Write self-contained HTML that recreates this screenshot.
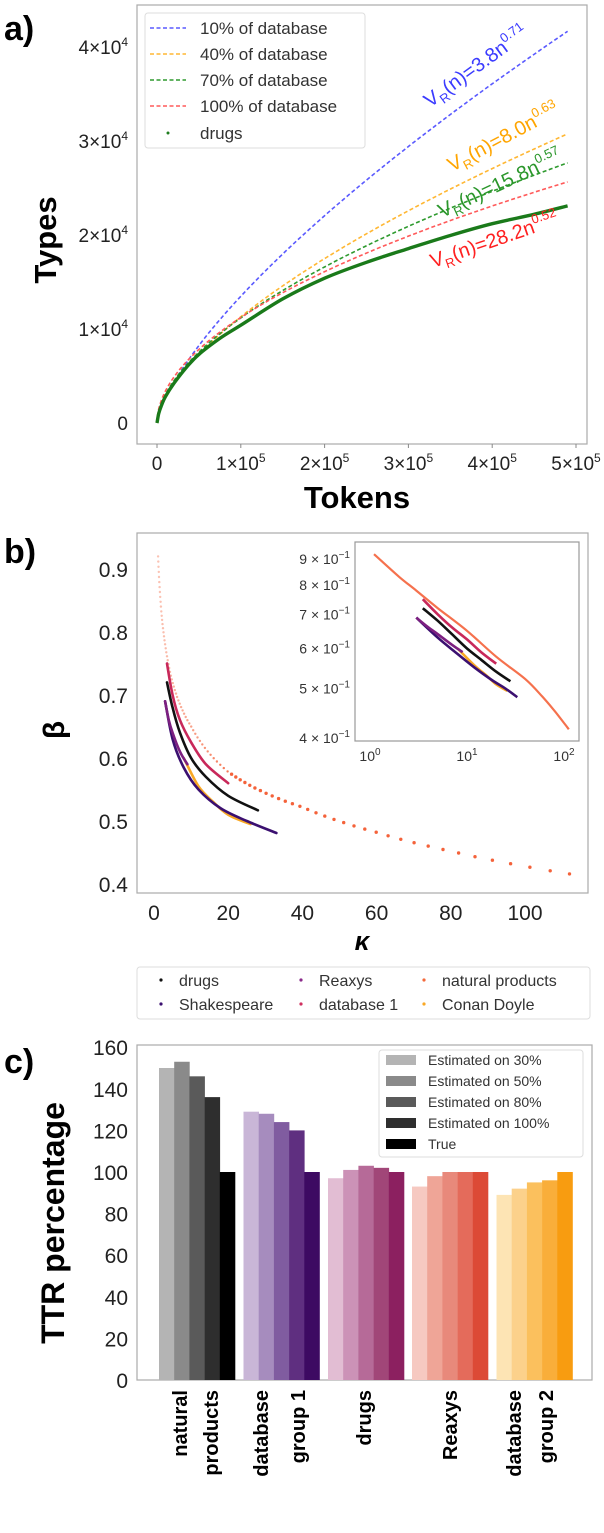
<!DOCTYPE html>
<html><head><meta charset="utf-8"><style>
html,body{margin:0;padding:0;background:#fff;}
svg{display:block;font-family:"Liberation Sans",sans-serif;}
</style></head><body>
<svg id="fig" width="604" height="1533" viewBox="0 0 604 1533" xmlns="http://www.w3.org/2000/svg">
<text x="4" y="40" font-size="34" font-weight="bold">a)</text>
<text x="4" y="563" font-size="34" font-weight="bold">b)</text>
<text x="4" y="1073" font-size="34" font-weight="bold">c)</text>
<g id="pa"></g>
<g id="pb"></g>
<g id="pc"></g>
</svg>
<script>
// ---------- Panel A data ----------
const fitNames = ["10% of database","40% of database","70% of database","100% of database"];
const fitA = [3.8, 8.0, 15.8, 28.2];
const fitB = [0.71, 0.63, 0.57, 0.52];
const drugTokens = [0, 2000, 5000, 10000, 20000, 35000, 50000, 75000, 100000, 150000, 200000, 250000, 300000, 350000, 400000, 450000, 490000];
const drugTypes = [0, 1000, 1800, 2800, 4200, 5900, 7300, 9000, 10400, 13200, 15400, 17100, 18550, 19950, 21200, 22200, 23100];
const aYTicks = [0, 10000, 20000, 30000, 40000];
const aXTicks = [0, 100000, 200000, 300000, 400000, 500000];
// ---------- Panel B data ----------
const bSeriesNames = ["drugs","Shakespeare","Reaxys","database 1","natural products","Conan Doyle"];
const kNat = [1.1,2,3,5,10,20,40,60,80,100,112];
const bNat = [0.92,0.83,0.78,0.72,0.65,0.578,0.522,0.482,0.452,0.428,0.416];
const kDb1 = [3.5,5,7,10,14,20];
const bDb1 = [0.75,0.70,0.66,0.625,0.59,0.56];
const kDrug = [3.5,5,7,10,14,20,28];
const bDrug = [0.72,0.68,0.64,0.60,0.57,0.54,0.517];
const kRx = [3,4,5,7,9];
const bRx = [0.69,0.66,0.64,0.61,0.59];
const kSh = [3,5,8,12,18,25,33];
const bSh = [0.69,0.63,0.585,0.55,0.52,0.50,0.481];
const kCd = [8,12,16,20,26];
const bCd = [0.60,0.555,0.53,0.51,0.495];
const bYTicks = [0.4,0.5,0.6,0.7,0.8,0.9];
const bXTicks = [0,20,40,60,80,100];
const insetYTicks = [4,5,6,7,8,9];
const insetXTicks = [0,1,2];
// ---------- Panel C data ----------
const groups = ["natural products","database group 1","drugs","Reaxys","database group 2"];
const seriesC = ["Estimated on 30%","Estimated on 50%","Estimated on 80%","Estimated on 100%","True"];
const valNP = [150,153,146,136,100];
const valDB1 = [129,128,124,120,100];
const valDrugs = [97,101,103,102,100];
const valReaxys = [93,98,100,100,100];
const valDB2 = [89,92,95,96,100];
const cYTicks = [0,20,40,60,80,100,120,140,160];

const NS="http://www.w3.org/2000/svg";
function mk(parent, tag, attrs, txt){const e=document.createElementNS(NS,tag);for(const k in attrs)e.setAttribute(k,attrs[k]);if(txt!==undefined)e.textContent=txt;parent.appendChild(e);return e;}
function smooth(pts){
  if(pts.length<3){return 'M'+pts.map(p=>p[0].toFixed(1)+','+p[1].toFixed(1)).join('L');}
  let d='M'+pts[0][0].toFixed(1)+','+pts[0][1].toFixed(1);
  for(let i=0;i<pts.length-1;i++){
    const p0=pts[i-1]||pts[i],p1=pts[i],p2=pts[i+1],p3=pts[i+2]||p2;
    const c1=[p1[0]+(p2[0]-p0[0])/6,p1[1]+(p2[1]-p0[1])/6];
    const c2=[p2[0]-(p3[0]-p1[0])/6,p2[1]-(p3[1]-p1[1])/6];
    d+='C'+c1[0].toFixed(1)+','+c1[1].toFixed(1)+' '+c2[0].toFixed(1)+','+c2[1].toFixed(1)+' '+p2[0].toFixed(1)+','+p2[1].toFixed(1);
  }
  return d;
}

// ===== PANEL A =====
const pa=document.getElementById('pa');
const xA=n=>157+n/1e5*83.8, yA=v=>423-v/1e4*94;
let el=mk(pa,'rect',{x:137,y:5,width:450,height:439,fill:'none',stroke:'#aaa','stroke-width':1.2});


aYTicks.forEach(v=>{
  const t=mk(pa,'text',{x:128,y:yA(v)+7,'font-size':19,'text-anchor':'end',fill:'#222'});
  
  
  if(v===0){t.textContent='0';}else{mk(t,'tspan',{},(v/1e4)+'×10');mk(t,'tspan',{dy:-8,'font-size':12},'4');}
});
aXTicks.forEach(v=>{
  const t=mk(pa,'text',{x:xA(v),y:470,'font-size':19,'text-anchor':'middle',fill:'#222'});
  
  
  if(v===0){t.textContent='0';}else{mk(t,'tspan',{},(v/1e5)+'×10');mk(t,'tspan',{dy:-8,'font-size':12},'5');}
  const tk=mk(pa,'line',{x1:xA(v),x2:xA(v),y1:444,y2:448,stroke:'#888'});
  
  
});
el=mk(pa,'text',{x:357,y:508,'font-size':31,'font-weight':'bold','text-anchor':'middle'},'Tokens');


el=mk(pa,'text',{x:0,y:0,'font-size':31,'font-weight':'bold','text-anchor':'middle',transform:'translate(56,240) rotate(-90)'},'Types');


const fitCols=['#5a5aff','#ffb733','#2e9a2e','#ff5a5a'];
fitA.forEach((a,i)=>{
  let d='';for(let j=0;j<=80;j++){const n=490000*Math.pow(j/80,1.6);const v=a*Math.pow(n,fitB[i]);d+=(j?'L':'M')+xA(n).toFixed(1)+','+yA(v).toFixed(1);}
  const p=mk(pa,'path',{d:d,fill:'none',stroke:fitCols[i],'stroke-width':1.6,'stroke-dasharray':'4 2.5'});
  
  
});
{const pts=drugTokens.map((n,i)=>[xA(n),yA(drugTypes[i])]);
const p=mk(pa,'path',{d:smooth(pts),fill:'none',stroke:'#1a7a1a','stroke-width':3.4,'stroke-linejoin':'round'});

}
const annCol=['#3b3bff','#ffa500','#2a962a','#ff2020'];
const annPos=[[430,108,-36],[452,172,-28],[442,218,-25],[433,268,-19]];
fitA.forEach((a,i)=>{
  const t=mk(pa,'text',{x:0,y:0,'font-size':20,fill:annCol[i],transform:`translate(${annPos[i][0]},${annPos[i][1]}) rotate(${annPos[i][2]})`});
  
  
  mk(t,'tspan',{},'V');mk(t,'tspan',{dy:5,'font-size':13},'R');mk(t,'tspan',{dy:-5},'(n)='+a.toFixed(1)+'n');mk(t,'tspan',{dy:-9,'font-size':13},fitB[i].toFixed(2));
});
el=mk(pa,'rect',{x:145,y:13,width:220,height:135,rx:3,fill:'#fff',stroke:'#ddd'});


const legY=[28,54,80,106,133];
fitNames.forEach((nm,i)=>{
  const l=mk(pa,'line',{x1:150,x2:186,y1:legY[i],y2:legY[i],stroke:fitCols[i],'stroke-width':1.6,'stroke-dasharray':'4 2.5'});
  
  
  const t=mk(pa,'text',{x:200,y:legY[i]+6,'font-size':17,fill:'#333'},nm);
  
  
});
el=mk(pa,'circle',{cx:168,cy:133,r:1.5,fill:'#1f7d1f'});


el=mk(pa,'text',{x:200,y:139,'font-size':17,fill:'#333'},'drugs');



// ===== PANEL B =====
const pb=document.getElementById('pb');
const xB=k=>154+k*3.71, yB=b=>569+(0.9-b)*630;
el=mk(pb,'rect',{x:137,y:533,width:451,height:360,fill:'none',stroke:'#aaa','stroke-width':1.2});


bYTicks.forEach(v=>{
  const t=mk(pb,'text',{x:128,y:yB(v)+8,'font-size':21,'text-anchor':'end',fill:'#222'},v.toFixed(1));
  
  
});
bXTicks.forEach(v=>{
  const t=mk(pb,'text',{x:xB(v),y:920,'font-size':21,'text-anchor':'middle',fill:'#222'},v);
  
  
});
el=mk(pb,'text',{x:362,y:950,'font-size':26,'font-weight':'bold','font-style':'italic','text-anchor':'middle'},'κ');


el=mk(pb,'text',{x:0,y:0,'font-size':30,'font-weight':'bold','text-anchor':'middle',transform:'translate(64,730) rotate(-90)'},'β');


const bCols={nat:'#f4623a',db1:'#c8285a',drug:'#111',rx:'#7c1f80',sh:'#3b1070',cd:'#f9a825'};
function interpLog(ks,bs,k){
  if(k<=ks[0])return bs[0];
  for(let i=0;i<ks.length-1;i++){if(k<=ks[i+1]){const t=(Math.log(k)-Math.log(ks[i]))/(Math.log(ks[i+1])-Math.log(ks[i]));return Math.exp(Math.log(bs[i])+t*(Math.log(bs[i+1])-Math.log(bs[i])));}}
  return bs[bs.length-1];
}
const kEnd=kNat[kNat.length-1];
const natKs=[];
for(let k=kNat[0];k<kEnd*0.98;k*=1.054){natKs.push(k);}
natKs.push(kEnd);
natKs.forEach(k=>{
  const b=interpLog(kNat,bNat,k);
  const a=k<20?0.35+0.5*(k/20):1;
  const c=mk(pb,'circle',{cx:xB(k).toFixed(1),cy:yB(b).toFixed(1),r:k<20?1.2:1.7,fill:bCols.nat,'fill-opacity':a.toFixed(2)});
  
  
});
const bSets=[['conan-doyle',kCd,bCd,bCols.cd],['shakespeare',kSh,bSh,bCols.sh],['reaxys',kRx,bRx,bCols.rx],['database-1',kDb1,bDb1,bCols.db1],['drugs',kDrug,bDrug,bCols.drug]];
bSets.forEach(s=>{
  const pts=s[1].map((k,i)=>[xB(k),yB(s[2][i])]);
  const p=mk(pb,'path',{d:smooth(pts),fill:'none',stroke:s[3],'stroke-width':2.6,'stroke-linecap':'round'});
  
  
});
const xI=k=>370+Math.log10(k)*97, yI=b=>559+(Math.log10(0.9)-Math.log10(b))*508;
el=mk(pb,'rect',{x:355,y:542,width:224,height:199,fill:'#fff',stroke:'#999','stroke-width':1.2});


insetYTicks.forEach(v=>{
  const t=mk(pb,'text',{x:350,y:yI(v/10)+5,'font-size':14,'text-anchor':'end',fill:'#333'});
  
  
  mk(t,'tspan',{},v+' × 10');mk(t,'tspan',{dy:-6,'font-size':10},'−1');
});
insetXTicks.forEach(v=>{
  const t=mk(pb,'text',{x:xI(Math.pow(10,v)),y:761,'font-size':14,'text-anchor':'middle',fill:'#333'});
  
  
  mk(t,'tspan',{},'10');mk(t,'tspan',{dy:-6,'font-size':10},String(v));
});
{const pts=kNat.map((k,i)=>[xI(k),yI(bNat[i])]);
el=mk(pb,'path',{d:smooth(pts),fill:'none',stroke:bCols.nat,'stroke-width':2.2,'stroke-opacity':0.9});

}
bSets.forEach(s=>{
  const pts=s[1].map((k,i)=>[xI(k),yI(s[2][i])]);
  const p=mk(pb,'path',{d:smooth(pts),fill:'none',stroke:s[3],'stroke-width':2.6});
  
  
});
el=mk(pb,'rect',{x:137,y:967,width:453,height:52,rx:3,fill:'#fff',stroke:'#ddd'});


const legB=[['drugs',161,980,'#111'],['Reaxys',301,980,'#8a2a8a'],['natural products',424,980,'#f46a3c'],['Shakespeare',161,1004,'#3b1070'],['database 1',301,1004,'#d03060'],['Conan Doyle',424,1004,'#f9a825']];
legB.forEach(e=>{
  const c=mk(pb,'circle',{cx:e[1],cy:e[2],r:1.6,fill:e[3]});
  
  
  const t=mk(pb,'text',{x:e[1]+18,y:e[2]+6,'font-size':16,fill:'#333'},e[0]);
  
  
});

// ===== PANEL C =====
const pc=document.getElementById('pc');
const yC=v=>1380-v*2.08;
const groupX=[159,243.5,328,412,496.5], barW=15.2;
const groupVals=[valNP,valDB1,valDrugs,valReaxys,valDB2];
const groupCols=[['#b4b4b4','#8a8a8a','#5a5a5a','#2e2e2e','#000000'],['#c9b6d7','#a68cbe','#805ca0','#5f2f80','#3d0a62'],['#e2bdd3','#cc92b7','#b66a98','#a14678','#8c2060'],['#f6c9c1','#efa597','#e8897b','#e46b5b','#dc4a36'],['#fde4b4','#fcd18b','#fbc05d','#f9ae3a','#f89c10']];
el=mk(pc,'rect',{x:137,y:1045,width:455,height:335,fill:'none',stroke:'#aaa','stroke-width':1.2});


cYTicks.forEach(v=>{
  const t=mk(pc,'text',{x:128,y:yC(v)+8,'font-size':21,'text-anchor':'end',fill:'#222'},v);
  
  
});
groupVals.forEach((vals,g)=>{
  vals.forEach((v,i)=>{
    const r=mk(pc,'rect',{x:groupX[g]+i*barW,y:yC(v),width:barW+0.3,height:yC(0)-yC(v),fill:groupCols[g][i]});
    
    
  });
});
const glab=[[['natural','products'],[180,211]],[['database','group 1'],[261,298]],[['drugs'],[364]],[['Reaxys'],[450]],[['database','group 2'],[514,546]]];
glab.forEach((gl,g)=>{
  gl[0].forEach((s,j)=>{
    const t=mk(pc,'text',{x:0,y:0,'font-size':20,'font-weight':'bold','text-anchor':'end',transform:`translate(${gl[1][j]+7},1390) rotate(-90)`},s);
    
    
  });
});
el=mk(pc,'text',{x:0,y:0,'font-size':32,'font-weight':'bold','text-anchor':'middle',transform:'translate(64,1223) rotate(-90)'},'TTR percentage');


el=mk(pc,'rect',{x:379,y:1050,width:204,height:107,rx:3,fill:'#fff',stroke:'#ddd'});


seriesC.forEach((s,i)=>{
  const y=1060+i*21;
  const r=mk(pc,'rect',{x:386,y:y-5,width:30,height:10,fill:groupCols[0][i]});
  
  
  const t=mk(pc,'text',{x:428,y:y+5,'font-size':14,fill:'#333'},s);
  
  
});
</script>
</body></html>
